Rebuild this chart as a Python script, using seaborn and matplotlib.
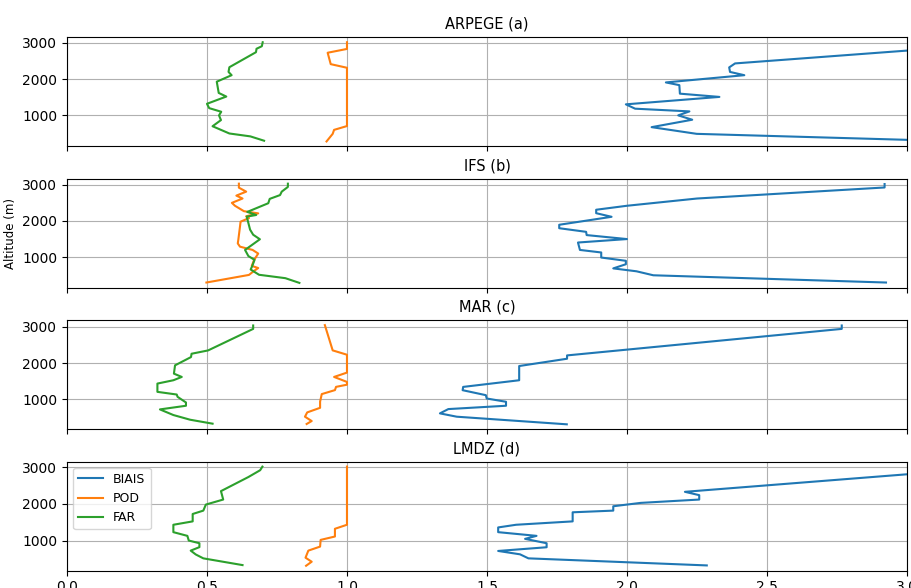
import matplotlib
matplotlib.use("Agg")
import matplotlib.pyplot as plt
import seaborn as sns
import pandas as pd

# ---------------- data (value, altitude in m) ----------------
models = ["ARPEGE (a)", "IFS (b)", "MAR (c)", "LMDZ (d)"]
metrics = ["BIAIS", "POD", "FAR"]
colors = ["#1f77b4", "#ff7f0e", "#2ca02c"]
xticks = [0.0, 0.5, 1.0, 1.5, 2.0, 2.5, 3.0]

# ARPEGE
arp_biais_alt = [3020, 2435, 2325, 2200, 2110, 1910, 1835, 1600, 1510, 1305, 1185, 1110, 1000, 880, 675, 490, 285]
arp_biais = [3.40, 2.386, 2.365, 2.368, 2.419, 2.139, 2.187, 2.189, 2.33, 1.996, 2.029, 2.223, 2.183, 2.233, 2.088, 2.249, 3.18]
arp_pod_alt = [3020, 2835, 2730, 2415, 2315, 705, 600, 490, 280]
arp_pod = [1.0, 1.0, 0.931, 0.942, 1.0, 1.0, 0.954, 0.949, 0.927]
arp_far_alt = [3020, 2910, 2840, 2745, 2330, 2200, 2110, 1930, 1620, 1520, 1320, 1200, 1100, 1000, 870, 700, 500, 420, 300]
arp_far = [0.699, 0.696, 0.677, 0.675, 0.580, 0.577, 0.588, 0.535, 0.542, 0.569, 0.500, 0.508, 0.551, 0.543, 0.550, 0.520, 0.580, 0.655, 0.704]

# IFS
ifs_biais_alt = [3020, 2925, 2620, 2420, 2310, 2215, 2115, 1895, 1800, 1700, 1610, 1500, 1405, 1200, 1130, 990, 900, 805, 690, 610, 500, 300]
ifs_biais = [2.92, 2.92, 2.25, 2.00, 1.89, 1.89, 1.945, 1.758, 1.758, 1.854, 1.856, 2.00, 1.825, 1.832, 1.908, 1.908, 1.996, 1.996, 1.951, 2.034, 2.094, 2.925]
ifs_pod_alt = [3030, 2920, 2810, 2700, 2620, 2500, 2420, 2270, 2210, 2130, 2080, 1980, 1850, 1480, 1380, 1290, 1200, 1100, 920, 760, 700, 620, 510, 300]
ifs_pod = [0.614, 0.614, 0.640, 0.605, 0.627, 0.589, 0.600, 0.632, 0.683, 0.640, 0.650, 0.620, 0.618, 0.612, 0.610, 0.618, 0.663, 0.683, 0.668, 0.660, 0.683, 0.668, 0.650, 0.498]
ifs_far_alt = [3030, 2940, 2810, 2715, 2610, 2490, 2250, 2165, 2120, 1940, 1760, 1620, 1495, 1300, 1200, 1030, 926, 760, 660, 514, 420, 290]
ifs_far = [0.789, 0.789, 0.767, 0.761, 0.724, 0.719, 0.644, 0.676, 0.642, 0.648, 0.654, 0.665, 0.689, 0.654, 0.636, 0.648, 0.670, 0.662, 0.656, 0.686, 0.780, 0.830]

# MAR
mar_biais_alt = [3040, 2945, 2211, 2119, 1917, 1523, 1339, 1248, 1110, 1018, 927, 817, 725, 606, 514, 303]
mar_biais = [2.767, 2.767, 1.786, 1.786, 1.615, 1.615, 1.415, 1.413, 1.496, 1.499, 1.568, 1.568, 1.362, 1.332, 1.392, 1.785]
mar_pod_alt = [3050, 2350, 2230, 1735, 1615, 1477, 1400, 1340, 1250, 1140, 930, 760, 633, 514, 394, 312]
mar_pod = [0.921, 0.949, 1.0, 1.0, 0.954, 1.0, 1.0, 0.961, 0.957, 0.910, 0.904, 0.904, 0.858, 0.850, 0.874, 0.856]
mar_far_alt = [3040, 2945, 2349, 2257, 2165, 1936, 1706, 1615, 1523, 1431, 1202, 1128, 1064, 908, 817, 716, 560, 430, 321]
mar_far = [0.665, 0.665, 0.504, 0.445, 0.443, 0.386, 0.382, 0.410, 0.380, 0.323, 0.323, 0.392, 0.395, 0.425, 0.425, 0.332, 0.380, 0.440, 0.520]

# LMDZ
lmdz_biais_alt = [3020, 2330, 2239, 2119, 2028, 1936, 1817, 1771, 1523, 1431, 1358, 1229, 1128, 1046, 927, 817, 716, 624, 514, 321]
lmdz_biais = [3.35, 2.207, 2.258, 2.258, 2.049, 1.951, 1.951, 1.806, 1.806, 1.604, 1.540, 1.540, 1.677, 1.636, 1.713, 1.713, 1.540, 1.618, 1.648, 2.285]
lmdz_pod_alt = [3018, 1431, 1321, 1110, 1018, 835, 725, 532, 422, 312]
lmdz_pod = [1.0, 1.0, 0.957, 0.957, 0.906, 0.904, 0.862, 0.852, 0.874, 0.854]
lmdz_far_alt = [3018, 2920, 2734, 2349, 2119, 1982, 1817, 1725, 1523, 1431, 1229, 1128, 1000, 927, 820, 725, 620, 514, 330]
lmdz_far = [0.698, 0.690, 0.648, 0.550, 0.558, 0.496, 0.487, 0.449, 0.449, 0.380, 0.380, 0.430, 0.435, 0.473, 0.473, 0.442, 0.460, 0.487, 0.627]

series = {
    "ARPEGE (a)": [(arp_biais, arp_biais_alt), (arp_pod, arp_pod_alt), (arp_far, arp_far_alt)],
    "IFS (b)": [(ifs_biais, ifs_biais_alt), (ifs_pod, ifs_pod_alt), (ifs_far, ifs_far_alt)],
    "MAR (c)": [(mar_biais, mar_biais_alt), (mar_pod, mar_pod_alt), (mar_far, mar_far_alt)],
    "LMDZ (d)": [(lmdz_biais, lmdz_biais_alt), (lmdz_pod, lmdz_pod_alt), (lmdz_far, lmdz_far_alt)],
}

rows = []
for model in models:
    for metric, (vals, alts) in zip(metrics, series[model]):
        for v, a in zip(vals, alts):
            rows.append({"model": model, "metric": metric, "value": v, "alt": a})
df = pd.DataFrame(rows)

# ---------------- figure ----------------
fig, axes = plt.subplots(4, 1, figsize=(9.11, 5.88), dpi=100, sharex=True)
fig.subplots_adjust(left=0.0735, right=0.9956, top=0.9366, bottom=0.0294, hspace=0.296)

for i, (ax, model) in enumerate(zip(axes, models)):
    sub = df[df["model"] == model]
    sns.lineplot(data=sub, x="value", y="alt", hue="metric", hue_order=metrics,
                 palette=colors, sort=False, estimator=None, orient="y",
                 linewidth=1.5, legend=(i == 3), ax=ax)
    ax.set_title(model, fontsize=10.5)
    ax.set_xlim(0, 3)
    ax.set_xticks(xticks)
    ax.set_yticks([1000, 2000, 3000])
    ax.grid(True)
    ax.set_xlabel("")
    ax.set_ylabel("Altitude (m)" if i == 1 else "", fontsize=8.5)

sns.move_legend(axes[3], "upper left", title=None, fontsize=9)

fig.savefig("out.png", dpi=100)
